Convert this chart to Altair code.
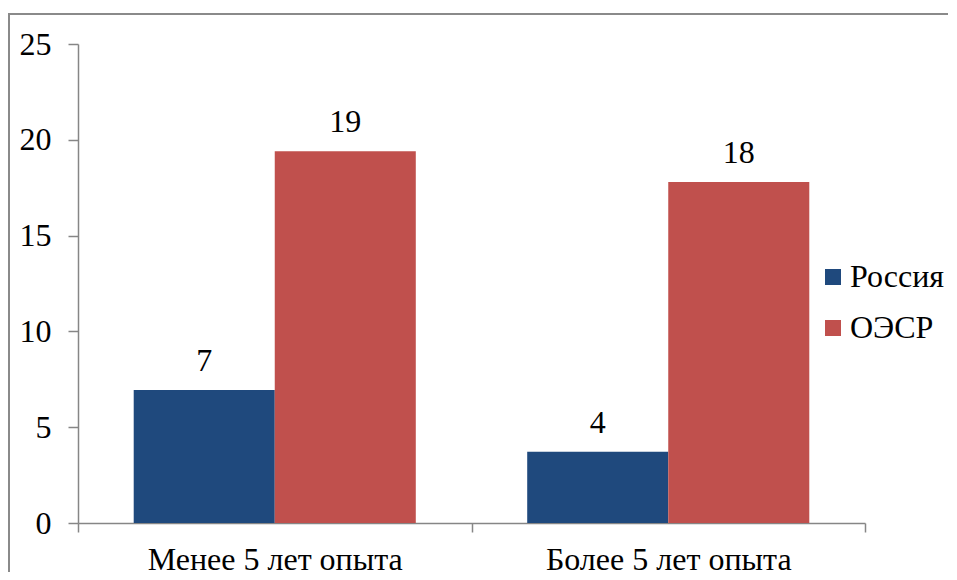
import altair as alt
import pandas as pd

categories = ["Менее 5 лет опыта", "Более 5 лет опыта"]
series_names = ["Россия", "ОЭСР"]
russia = [6.94, 3.72]
oecd = [19.4, 17.8]
y_ticks = [0, 5, 10, 15, 20, 25]
colors = ["#1F497D", "#C0504D"]

rows = []
for i, c in enumerate(categories):
    rows.append({"cat": c, "series": series_names[0], "value": russia[i]})
    rows.append({"cat": c, "series": series_names[1], "value": oecd[i]})
df = pd.DataFrame(rows)

FONT = "Liberation Serif"
FS = 32
GRAY = "#868686"

x_enc = alt.X(
    "cat:N", sort=categories,
    scale=alt.Scale(paddingInner=0, paddingOuter=0),
    axis=alt.Axis(title=None, labelAngle=0, tickBand="extent", tickSize=9,
                  labelPadding=37, labelBaseline="alphabetic",
                  labelFontSize=FS, labelFont=FONT, labelLimit=600,
                  labelColor="black", domainColor=GRAY, tickColor=GRAY,
                  domainWidth=1.5, tickWidth=1.5),
)
xoff_enc = alt.XOffset(
    "series:N", sort=series_names,
    scale=alt.Scale(domain=series_names, paddingInner=0, paddingOuter=0.395),
)
y_enc = alt.Y(
    "value:Q", scale=alt.Scale(domain=[0, 25], nice=False),
    axis=alt.Axis(title=None, values=y_ticks, grid=False, tickSize=10,
                  labelPadding=17, labelFontSize=FS, labelFont=FONT,
                  labelColor="black", domainColor=GRAY, tickColor=GRAY,
                  domainWidth=1.5, tickWidth=1.5),
)

bars = alt.Chart(df).mark_bar().encode(
    x=x_enc, xOffset=xoff_enc, y=y_enc,
    color=alt.Color(
        "series:N", sort=series_names,
        scale=alt.Scale(domain=series_names, range=colors),
        legend=alt.Legend(title=None, orient="none", legendX=739, legendY=217,
                          symbolType="square", symbolSize=256, symbolStrokeWidth=0,
                          labelFontSize=FS, labelFont=FONT, labelColor="black",
                          labelLimit=400,
                          rowPadding=19, padding=0, labelOffset=1),
    ),
)

labels = alt.Chart(df).mark_text(
    dy=-19, baseline="alphabetic", fontSize=FS, font=FONT, color="black"
).encode(
    x=x_enc, xOffset=xoff_enc, y=y_enc,
    text=alt.Text("value:Q", format=".0f"),
)

frame = alt.Chart(alt.Data(values=[{"a": 1}])).mark_rect(
    fillOpacity=0, stroke="#8a8a8a", strokeWidth=2
).encode(
    x=alt.value(-69), y=alt.value(-30), x2=alt.value(3000), y2=alt.value(3000)
)

chart = alt.layer(frame, bars, labels).properties(
    width=787, height=479,
    autosize=alt.AutoSizeParams(type="none"),
    padding={"left": 70, "top": 36, "right": 83, "bottom": 49},
    background="white",
).configure_view(stroke="transparent")

chart.save("out.html", embed_options={"renderer": "svg", "actions": False})
